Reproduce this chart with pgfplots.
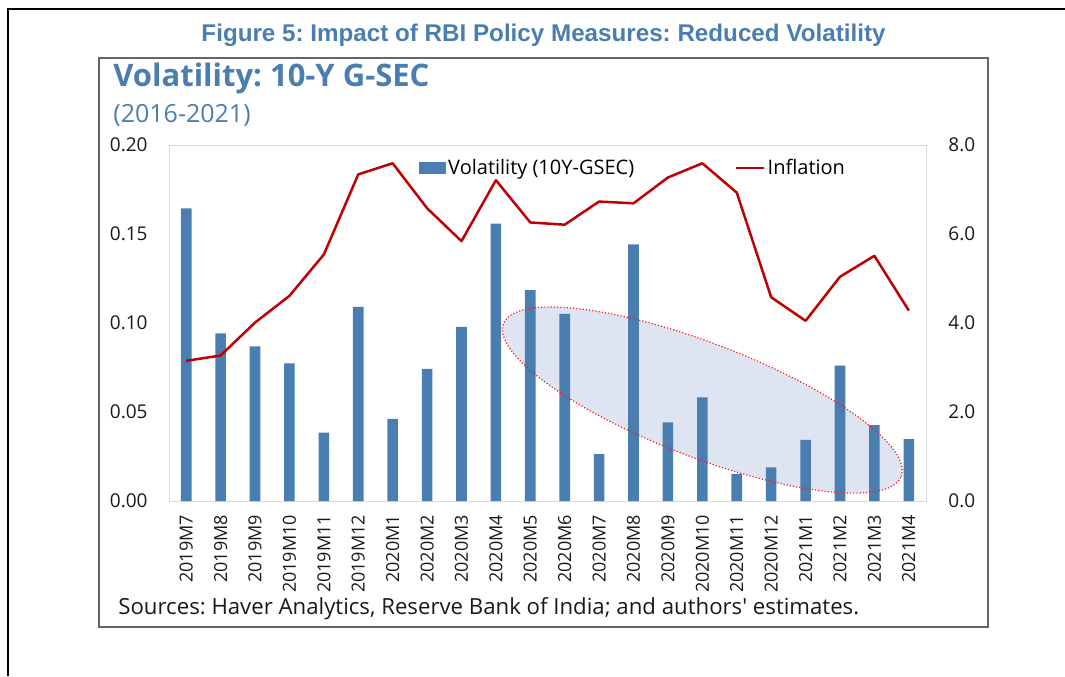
\documentclass[border=0pt]{standalone}
\usepackage{fontspec}
\setmainfont{Open Sans}
\newfontfamily\arialfont{Liberation Sans}
\usepackage{pgfplots}
\usepackage{pgfplotstable}
\pgfplotsset{compat=1.18}
\frenchspacing

\definecolor{barblue}{RGB}{74,126,176}
\definecolor{titleblue}{RGB}{74,126,176}
\definecolor{infred}{RGB}{192,0,0}
\definecolor{ellfill}{RGB}{222,228,242}

% volatility (left axis) and inflation (right axis), monthly
\pgfplotstableread{
idx vol    infl
0   0.1644 3.15
1   0.0942 3.27
2   0.0869 4.01
3   0.0773 4.61
4   0.0384 5.54
5   0.1090 7.34
6   0.0461 7.59
7   0.0742 6.58
8   0.0978 5.84
9   0.1558 7.21
10  0.1185 6.26
11  0.1052 6.21
12  0.0264 6.73
13  0.1442 6.69
14  0.0442 7.27
15  0.0582 7.59
16  0.0152 6.93
17  0.0189 4.58
18  0.0343 4.05
19  0.0760 5.04
20  0.0427 5.51
21  0.0347 4.28
}\datatable

\pgfplotsset{
  myax/.style={
    scale only axis, width=378.5pt, height=178pt,
    at={(84.5pt,-250.5pt)}, anchor=south west,
    xmin=-0.5, xmax=21.5,
    tick style={draw=none},
    /pgf/number format/assume math mode=true,
    ticklabel style={font=\fontsize{9.5}{11}\selectfont, text=black!90},
  }
}

\begin{document}
\begin{tikzpicture}
\useasboundingbox (0,0) rectangle (532.5pt,-338pt);
\draw[line width=1pt] (4pt,-338pt) -- (4pt,-4.5pt) -- (532.5pt,-4.5pt);
\draw[black!60, line width=0.75pt] (49.5pt,-29pt) rectangle (494pt,-313.5pt);

\node[font=\arialfont\bfseries\fontsize{12.1}{14}\selectfont, text=titleblue]
  at (271.75pt,-17.5pt) {Figure 5: Impact of RBI Policy Measures: Reduced Volatility};
\node[anchor=west, inner sep=0pt, font=\bfseries\fontsize{15.5}{17}\selectfont, text=titleblue]
  at (56.5pt,-39pt) {Volatility: 10-Y G-SEC};
\node[anchor=west, inner sep=0pt, font=\fontsize{12.5}{14}\selectfont, text=titleblue]
  at (56.5pt,-57.5pt) {(2016-2021)};
\node[anchor=west, inner sep=0pt, font=\fontsize{11.1}{13}\selectfont, text=black!90]
  at (59pt,-304.5pt) {Sources: Haver Analytics, Reserve Bank of India; and authors\textquotesingle{} estimates.};

\begin{axis}[myax,
  ybar, bar width=5.3pt,
  axis line style={black!15},
  ymin=0, ymax=0.2, ytick={0,0.05,0.1,0.15,0.2},
  yticklabel style={/pgf/number format/fixed, /pgf/number format/fixed zerofill,
    /pgf/number format/precision=2, anchor=east, inner sep=0pt},
  yticklabel shift=10.5pt,
  xtick={0,...,21},
  xticklabels={2019M7,2019M8,2019M9,2019M10,2019M11,2019M12,2020M1,2020M2,2020M3,2020M4,2020M5,2020M6,2020M7,2020M8,2020M9,2020M10,2020M11,2020M12,2021M1,2021M2,2021M3,2021M4},
  xticklabel style={rotate=90, anchor=east, inner sep=0pt, font=\fontsize{9}{10}\selectfont},
  xticklabel shift=2.5pt,
]
\fill[ellfill, rotate around={-21:(axis cs:15,0.0567)}]
  (axis cs:15,0.0567) ellipse [x radius=106.5pt, y radius=28.5pt];
\addplot[fill=barblue, draw=none] table[x=idx, y=vol] {\datatable};
\draw[red!90, densely dotted, line width=0.6pt, rotate around={-21:(axis cs:15,0.0567)}]
  (axis cs:15,0.0567) ellipse [x radius=106.5pt, y radius=28.5pt];
\end{axis}

\begin{axis}[myax,
  axis y line*=right, axis x line=none,
  axis line style={draw=none},
  ymin=0, ymax=8, ytick={0,2,4,6,8},
  yticklabel style={/pgf/number format/fixed, /pgf/number format/fixed zerofill,
    /pgf/number format/precision=1, anchor=west, inner sep=0pt},
  yticklabel shift=11pt,
  legend style={at={(0.3303,0.9354)}, anchor=west, draw=none, fill=none,
    inner sep=0pt, legend columns=2, font=\fontsize{10}{11}\selectfont,
    nodes={inner sep=0pt}, column sep=1pt,
    /tikz/every even column/.append style={column sep=50.5pt}},
]
\addlegendimage{legend image code/.code={\fill[barblue] (0pt,-2.75pt) rectangle (13pt,2.75pt);}}
\addlegendentry{Volatility (10Y-GSEC)}
\addplot[infred, line width=1.25pt, line join=round, mark=none,
  legend image code/.code={\draw[infred, line width=1.25pt] (0pt,0pt) -- (14pt,0pt);}]
  table[x=idx, y=infl] {\datatable};
\addlegendentry{Inflation}
\end{axis}
\end{tikzpicture}
\end{document}
